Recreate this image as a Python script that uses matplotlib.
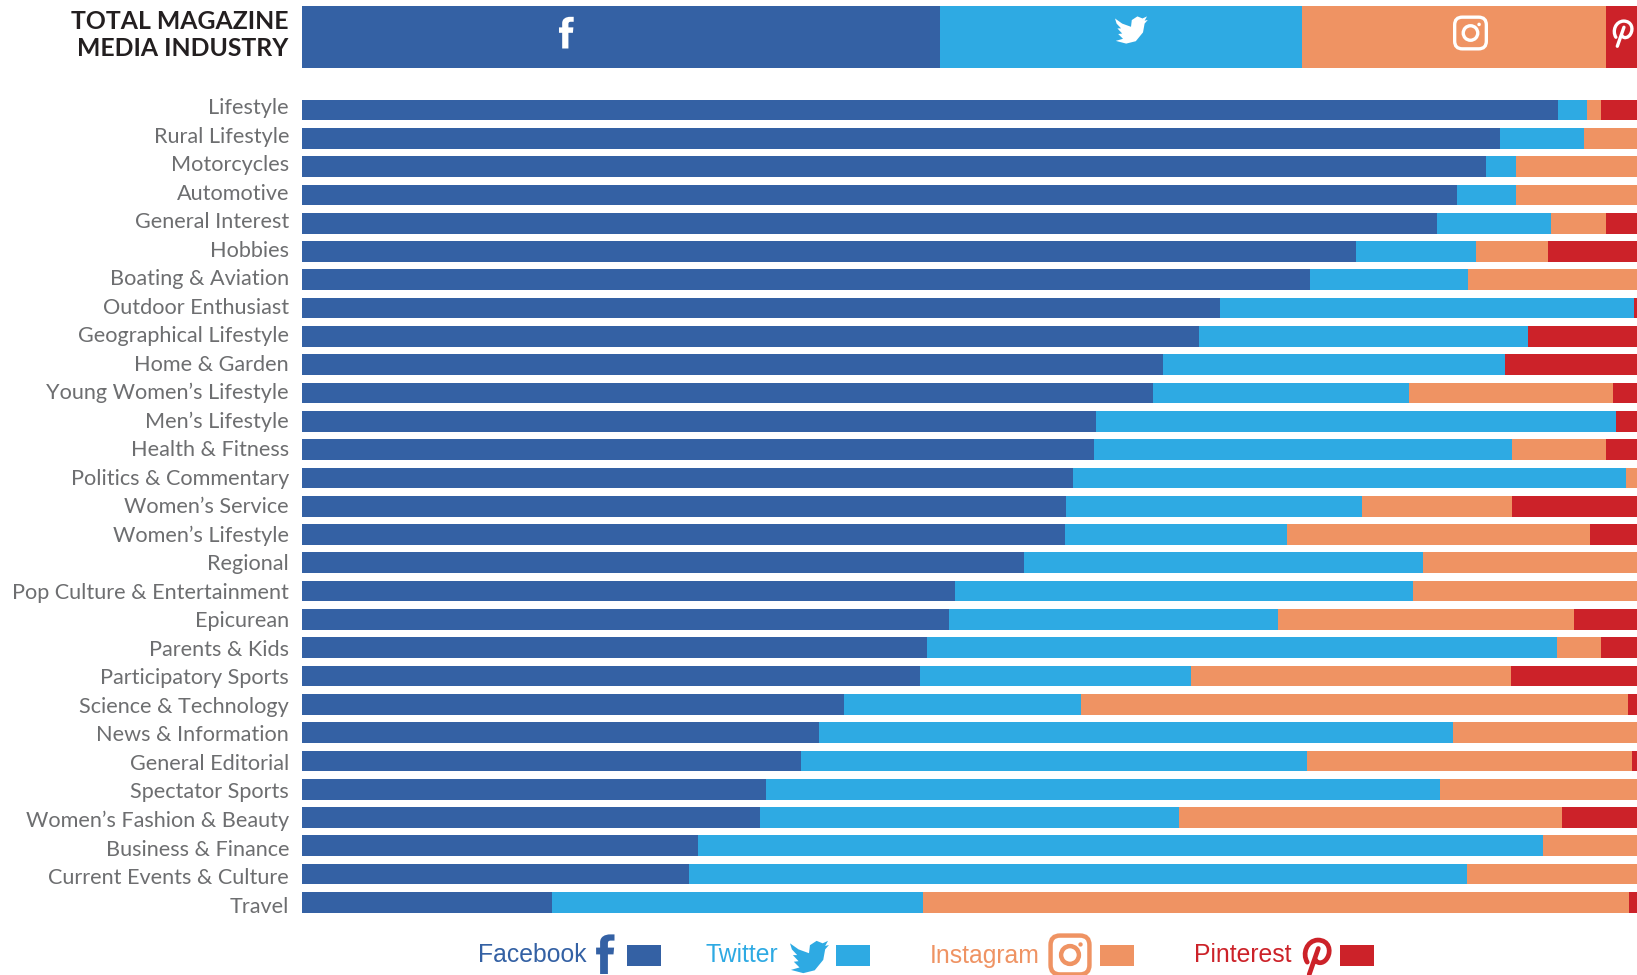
import matplotlib
matplotlib.use('Agg')
import matplotlib.pyplot as plt
from matplotlib.patches import FancyBboxPatch, Circle, PathPatch, Rectangle
from matplotlib.path import Path

# Datos (porcentaje de cada red)
categorias = ['Lifestyle', 'Rural Lifestyle', 'Motorcycles', 'Automotive', 'General Interest',
              'Hobbies', 'Boating & Aviation', 'Outdoor Enthusiast', 'Geographical Lifestyle',
              'Home & Garden', 'Young Women’s Lifestyle', 'Men’s Lifestyle', 'Health & Fitness',
              'Politics & Commentary', 'Women’s Service', 'Women’s Lifestyle', 'Regional',
              'Pop Culture & Entertainment', 'Epicurean', 'Parents & Kids', 'Participatory Sports',
              'Science & Technology', 'News & Information', 'General Editorial', 'Spectator Sports',
              'Women’s Fashion & Beauty', 'Business & Finance', 'Current Events & Culture', 'Travel']
facebook = [94.1, 89.75, 88.7, 86.5, 85.0, 78.95, 75.5, 68.75, 67.2, 64.5, 63.75, 59.5, 59.3, 57.75, 57.2,
            57.15, 54.1, 48.9, 48.5, 46.8, 46.3, 40.6, 38.75, 37.4, 34.75, 34.3, 29.7, 29.0, 18.75]
twitter = [2.15, 6.25, 2.25, 4.45, 8.55, 9.0, 11.85, 31.05, 24.6, 25.6, 19.15, 38.9, 31.3, 41.4, 22.2,
           16.65, 29.9, 34.3, 24.6, 47.2, 20.3, 17.75, 47.45, 37.85, 50.5, 31.4, 63.25, 58.3, 27.75]
instagram = [1.05, 4.0, 9.05, 9.05, 4.15, 5.35, 12.65, 0.0, 0.0, 0.0, 15.3, 0.0, 7.05, 0.85, 11.2,
             22.7, 16.0, 16.8, 22.2, 3.3, 23.95, 40.95, 13.8, 24.35, 14.75, 28.7, 7.05, 12.7, 52.9]
pinterest = [2.7, 0.0, 0.0, 0.0, 2.3, 6.7, 0.0, 0.2, 8.2, 9.9, 1.8, 1.6, 2.35, 0.0, 9.4,
             3.5, 0.0, 0.0, 4.7, 2.7, 9.45, 0.7, 0.0, 0.4, 0.0, 5.6, 0.0, 0.0, 0.6]
total = [47.8, 27.1, 22.8, 2.3]
redes = ['Facebook', 'Twitter', 'Instagram', 'Pinterest']
colores = ['#3461a4', '#2eaae3', '#ef9363', '#cc2229']

W, H = 1637, 975
plt.rcParams['font.family'] = ['Lato', 'DejaVu Sans']
fig = plt.figure(figsize=(W / 100, H / 100), dpi=100)


def caja(x0, y0, x1, y1):
    return [x0 / W, 1 - y1 / H, (x1 - x0) / W, (y1 - y0) / H]


# Barra total
ax0 = fig.add_axes(caja(302, 6, 1637, 68))
izq = 0
for v, c in zip(total, colores):
    ax0.barh(0, v, left=izq, height=1, color=c)
    izq += v
ax0.set_xlim(0, 100)
ax0.set_ylim(-0.5, 0.5)
ax0.axis('off')

# Barras por categoria
paso = 28.3
ax = fig.add_axes(caja(302, 110 - paso / 2, 1637, 110 + 28.5 * paso))
izq = [0] * len(categorias)
for serie, c in zip([facebook, twitter, instagram, pinterest], colores):
    ax.barh(range(len(categorias)), serie, left=izq, height=0.73, color=c)
    izq = [a + b for a, b in zip(izq, serie)]
ax.set_xlim(0, 100)
ax.set_ylim(28.5, -0.5)
ax.axis('off')

# Capa en pixeles para titulo, etiquetas e iconos
capa = fig.add_axes([0, 0, 1, 1])
capa.set_xlim(0, W)
capa.set_ylim(H, 0)
capa.axis('off')
capa.patch.set_alpha(0)

capa.text(288.5, 29, 'TOTAL MAGAZINE', ha='right', va='baseline', fontsize=17.8, fontweight='bold', color='#231f20')
capa.text(288.5, 56, 'MEDIA INDUSTRY', ha='right', va='baseline', fontsize=17.8, fontweight='bold', color='#231f20')

# las etiquetas llevan un paso un poco mayor que las barras
for i, nombre in enumerate(categorias):
    capa.text(289, 114 + 28.52 * i, nombre, ha='right', va='baseline', fontsize=15.6, color='#6d6e70')


def icono_f(cx, cy, s, color):
    verts = [(-.27, 1), (-.27, .02), (-.47, .02), (-.47, -.32), (-.27, -.32), (-.27, -.58),
             (-.27, -.87), (-.02, -.98), (.23, -.98), (.45, -.98), (.45, -.67), (.27, -.67),
             (.15, -.67), (.12, -.62), (.12, -.52), (.12, -.32), (.43, -.32), (.4, .02),
             (.12, .02), (.12, 1), (-.27, 1)]
    codes = [Path.MOVETO] + [Path.LINETO] * 5 + [Path.CURVE4] * 3 + [Path.LINETO] * 2 + \
            [Path.LINETO] + [Path.CURVE4] * 3 + [Path.LINETO] * 5 + [Path.CLOSEPOLY]
    puntos = [(cx + x * s, cy + y * s) for x, y in verts]
    capa.add_patch(PathPatch(Path(puntos, codes), fc=color, ec='none'))


def icono_pajaro(cx, cy, s, color):
    pts = [(-1.0, -0.72), (-0.55, -0.4), (0.0, -0.2), (0.05, -0.62), (0.4, -0.85), (0.72, -0.72),
           (1.0, -0.85), (0.85, -0.58), (1.05, -0.63), (0.85, -0.4), (0.75, 0.15), (0.3, 0.7),
           (-0.3, 0.85), (-0.95, 0.68), (-0.5, 0.55), (-0.8, 0.25), (-0.55, 0.22), (-0.85, -0.1),
           (-0.62, -0.1), (-0.9, -0.4)]
    verts = [(cx + x * s, cy + y * s) for x, y in pts] + [(cx, cy)]
    codes = [Path.MOVETO] + [Path.LINETO] * (len(pts) - 1) + [Path.CLOSEPOLY]
    capa.add_patch(PathPatch(Path(verts, codes), fc=color, ec='none'))


def icono_insta(cx, cy, s, color, lw):
    capa.add_patch(FancyBboxPatch((cx - s * 0.72, cy - s * 0.72), s * 1.44, s * 1.44,
                                  boxstyle='round,pad=0,rounding_size=%f' % (s * 0.35),
                                  fc='none', ec=color, lw=lw))
    capa.add_patch(Circle((cx, cy), s * 0.33, fc='none', ec=color, lw=lw))
    capa.add_patch(Circle((cx + s * 0.39, cy - s * 0.39), s * 0.08, fc=color, ec='none'))


def icono_pin(cx, cy, s, color, lw):
    arco = [(-0.75, 0.55), (-1.15, -0.1), (-0.8, -1.1), (0.05, -1.15), (0.95, -1.15), (1.1, -0.3),
            (0.8, 0.2), (0.6, 0.6), (0.1, 0.75), (-0.1, 0.4)]
    palo = [(0.1, -0.5), (-0.6, 1.5)]
    verts = [(cx + x * s, cy + y * s) for x, y in arco + palo]
    codes = [Path.MOVETO] + [Path.CURVE4] * 9 + [Path.MOVETO, Path.LINETO]
    capa.add_patch(PathPatch(Path(verts, codes), fc='none', ec=color, lw=lw, capstyle='round', joinstyle='round'))


# Iconos de la barra total
icono_f(566.5, 32.5, 16, 'white')
icono_pajaro(1131, 30, 16, 'white')
icono_insta(1470.5, 33, 22, 'white', 2.4)
icono_pin(1623, 32, 9.5, 'white', 2.4)

# Leyenda
leg_x = [478, 706, 930, 1194]
leg_sw = [627, 836, 1100, 1340]
for nombre, c, x, sw in zip(redes, colores, leg_x, leg_sw):
    capa.text(x, 962.5, nombre, ha='left', va='baseline', fontsize=17.85, color=c, family='Liberation Sans')
    capa.add_patch(Rectangle((sw, 945), 34, 21, fc=c, ec='none'))
icono_f(605.5, 954, 20, colores[0])
icono_pajaro(809, 957, 19, colores[1])
icono_insta(1070, 955, 27, colores[2], 3.2)
icono_pin(1317, 955, 13, colores[3], 3.4)

fig.savefig('out.png', dpi=100)
